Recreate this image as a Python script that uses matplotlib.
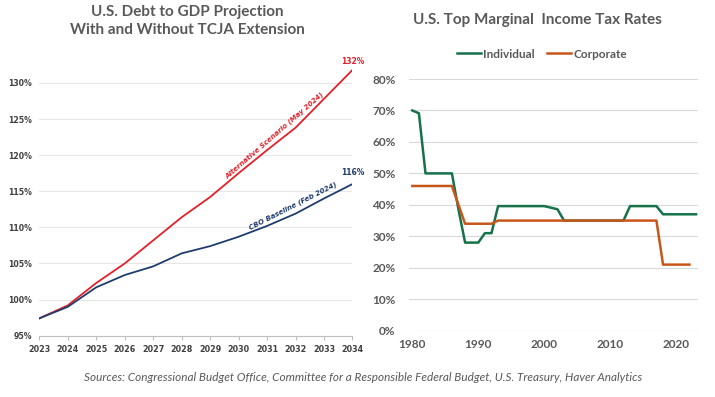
import matplotlib
matplotlib.use("Agg")
import matplotlib.pyplot as plt
import numpy as np

# ---- Left chart data ----
years_debt = [2023, 2024, 2025, 2026, 2027, 2028, 2029, 2030, 2031, 2032, 2033, 2034]
cbo_baseline = [97.4, 99.0, 101.7, 103.4, 104.6, 106.4, 107.4, 108.7, 110.2, 111.9, 114.0, 116.0]
alt_scenario = [97.4, 99.2, 102.3, 105.0, 108.2, 111.4, 114.2, 117.5, 120.7, 123.8, 127.8, 131.8]
debt_yticks = [95, 100, 105, 110, 115, 120, 125, 130]

# ---- Right chart data ----
years_ind = list(range(1980, 2024))
individual = ([70, 69.1] + [50] * 5 + [38.5] + [28] * 3 + [31] * 2 + [39.6] * 8
              + [39.1, 38.6] + [35] * 10 + [39.6] * 5 + [37] * 6)
years_corp = list(range(1980, 2023))
corporate = [46] * 7 + [40] + [34] * 5 + [35] * 25 + [21] * 5
tax_yticks = [0, 10, 20, 30, 40, 50, 60, 70, 80]
tax_xticks = [1980, 1990, 2000, 2010, 2020]

GREY = "#595959"
GRID = "#D9D9D9"
RED = "#E3202A"
NAVY = "#1F3C6E"
GREEN = "#157249"
ORANGE = "#C8561B"
NARROW = ["Liberation Sans Narrow", "DejaVu Sans"]
SANS = ["Lato", "DejaVu Sans"]

fig = plt.figure(figsize=(7.15, 3.97), dpi=100)

# ---------------- Left chart ----------------
ax1 = fig.add_axes([0.055, 0.1544, 0.438, 0.695])
ax1.plot(years_debt, alt_scenario, color=RED, lw=1.3, zorder=3)
ax1.plot(years_debt, cbo_baseline, color=NAVY, lw=1.3, zorder=3)
ax1.set_xlim(2023, 2034)
ax1.set_ylim(95, 133.2)
ax1.set_yticks(debt_yticks)
ax1.set_yticklabels([f"{v}%" for v in debt_yticks], family=NARROW, fontsize=5.6,
                    color="#404040", fontweight="bold")
ax1.set_xticks(years_debt)
ax1.set_xticklabels([str(y) for y in years_debt], family=NARROW, fontsize=5.8,
                    color="#404040", fontweight="bold")
ax1.grid(axis="y", color="#E6E6E6", lw=0.8)
ax1.set_axisbelow(True)
for s in ["top", "right", "left"]:
    ax1.spines[s].set_visible(False)
ax1.spines["bottom"].set_color("#BFBFBF")
ax1.tick_params(axis="y", length=0, pad=5)
ax1.tick_params(axis="x", length=3, color="#BFBFBF", pad=4)

ax1.text(years_debt[-1], 132.9, f"{round(alt_scenario[-1])}%",
         color=RED, fontsize=5.5, fontweight="bold", family=NARROW, ha="center",
         va="center", clip_on=False)
ax1.text(years_debt[-1], 117.6, f"{round(cbo_baseline[-1])}%",
         color=NAVY, fontsize=5.5, fontweight="bold", family=NARROW, ha="center",
         va="center", clip_on=False)
ax1.text(2031.25, 122.7, "Alternative Scenario (May 2024)", color=RED, fontsize=5.0,
         fontstyle="italic", fontweight="bold", family=NARROW, rotation=41,
         ha="center", va="center", rotation_mode="anchor")
ax1.text(2031.9, 112.9, "CBO Baseline (Feb 2024)", color=NAVY, fontsize=5.0,
         fontstyle="italic", fontweight="bold", family=NARROW, rotation=27,
         ha="center", va="center", rotation_mode="anchor")

fig.text(0.2615, 0.9475, "U.S. Debt to GDP Projection\nWith and Without TCJA Extension",
         ha="center", va="center", fontsize=11, fontweight="bold", color=GREY,
         family=SANS, linespacing=1.35)

# ---------------- Right chart ----------------
ax2 = fig.add_axes([0.5725, 0.167, 0.4042, 0.634])
ax2.plot(years_ind, individual, color=GREEN, lw=1.8, label="Individual", zorder=3,
         clip_on=False)
ax2.plot(years_corp, corporate, color=ORANGE, lw=1.8, label="Corporate", zorder=3,
         clip_on=False)
ax2.set_xlim(1979.55, 2023.35)
ax2.set_ylim(0, 80)
ax2.set_yticks(tax_yticks)
ax2.set_yticklabels([f"{v}%" for v in tax_yticks], fontsize=8.5, color=GREY,
                    family=SANS, fontweight="bold")
ax2.set_xticks(tax_xticks)
ax2.set_xticklabels([str(v) for v in tax_xticks], fontsize=8.5, color=GREY,
                    family=SANS, fontweight="bold")
ax2.grid(axis="y", color=GRID, lw=0.8)
ax2.set_axisbelow(True)
for s in ["top", "right", "left", "bottom"]:
    ax2.spines[s].set_visible(False)
ax2.tick_params(length=0, pad=6)
ax2.tick_params(axis="y", pad=10)

leg = ax2.legend(loc="lower center", bbox_to_anchor=(0.459, 1.035), ncol=2, frameon=False,
                 handlelength=2.0, handletextpad=0.2, columnspacing=1.1,
                 prop={"family": SANS, "size": 8.5, "weight": "bold"})
for t in leg.get_texts():
    t.set_color(GREY)

fig.text(0.752, 0.95, "U.S. Top Marginal  Income Tax Rates", ha="center", va="center",
         fontsize=11, fontweight="bold", color=GREY, family=SANS)

fig.text(0.508, 0.05, "Sources: Congressional Budget Office, Committee for a Responsible Federal Budget, U.S. Treasury, Haver Analytics",
         ha="center", va="center", fontsize=8.5, fontstyle="italic", color=GREY,
         family=SANS)

fig.savefig("out.png", dpi=100)
